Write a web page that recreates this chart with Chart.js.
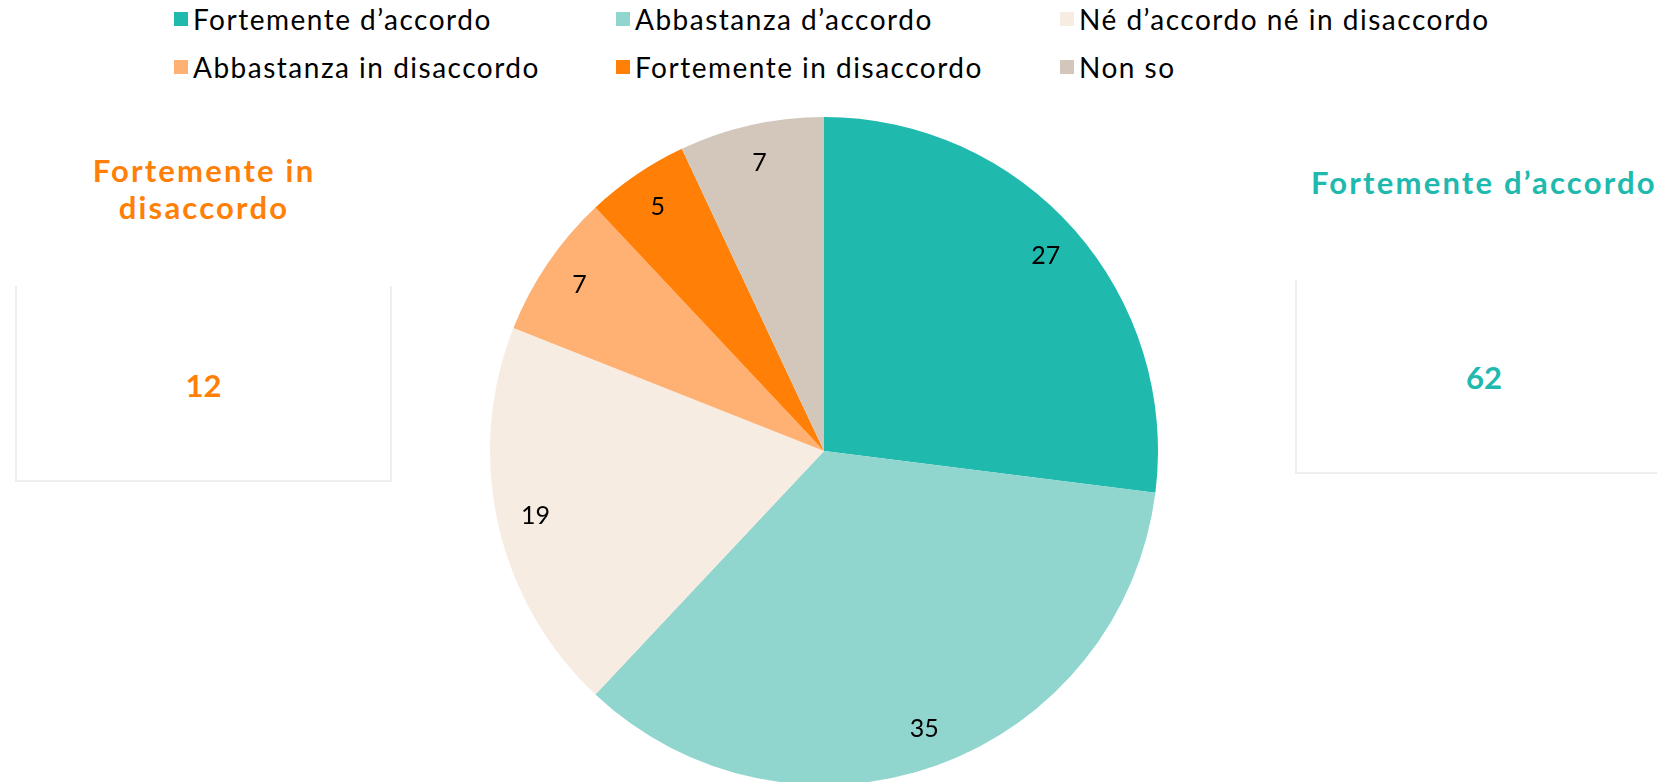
<!DOCTYPE html>
<html>
<head>
<meta charset="utf-8">
<script src="https://cdn.jsdelivr.net/npm/chart.js@4"></script>
<style>
  html, body { margin: 0; padding: 0; background: #fff; }
  body { width: 1657px; height: 782px; overflow: hidden; position: relative; font-family: Lato, "Noto Sans", sans-serif; }
  #legend { position: absolute; left: 174px; top: 0px; width: 1400px; display: grid; grid-template-columns: 442px 444px 500px; row-gap: 10px; }
  .item { display: flex; align-items: center; font-size: 28px; color: #000; height: 38px; white-space: nowrap; letter-spacing: 1.5px; }
  .sw { width: 14px; height: 14px; margin-right: 5px; }
  .box { position: absolute; border: 2px solid #eeeeee; border-top: none; box-sizing: border-box; }
  .ttl { position: absolute; font-weight: bold; font-size: 31px; text-align: center; line-height: 37px; white-space: nowrap; letter-spacing: 2.2px; }
  .num { position: absolute; font-weight: bold; font-size: 31px; text-align: center; }
  #pie { position: absolute; left: 490px; top: 117px; }
</style>
</head>
<body>
<div id="legend"></div>

<div class="ttl" id="leftTitle" style="left:14px;width:380px;top:152px;color:#FF7F07;"></div>
<div class="box" style="left:15px;top:286px;width:377px;height:196px;"></div>
<div class="num" id="leftNum" style="left:15px;width:377px;top:366px;color:#FF7F07;"></div>

<div class="ttl" id="rightTitle" style="left:1311px;top:164px;color:#20B9AE;"></div>
<div class="box" style="left:1295px;top:280px;width:400px;height:194px;"></div>
<div class="num" id="rightNum" style="left:1295px;width:378px;top:358px;color:#20B9AE;"></div>

<canvas id="pie" width="668" height="668"></canvas>

<script>
const labels = ['Fortemente d\u2019accordo', 'Abbastanza d\u2019accordo', 'N\u00e9 d\u2019accordo n\u00e9 in disaccordo',
    'Abbastanza in disaccordo', 'Fortemente in disaccordo', 'Non so'];
const values = [27, 35, 19, 7, 5, 7];
const colors = ['#20B9AE', '#90D6CE', '#F7ECE2', '#FFB073', '#FF7F07', '#D3C7BC'];

const agreeTotal = values[0] + values[1];
const disagreeTotal = values[3] + values[4];

// legend in three columns, like the original
const legendEl = document.getElementById('legend');
labels.forEach((label, i) => {
    const item = document.createElement('div');
    item.className = 'item';
    item.innerHTML = `<span class="sw" style="background:${colors[i]}"></span><span>${label}</span>`;
    legendEl.appendChild(item);
});

document.getElementById('leftTitle').innerHTML = 'Fortemente in<br>disaccordo';
document.getElementById('rightTitle').textContent = labels[0];
document.getElementById('leftNum').textContent = disagreeTotal;
document.getElementById('rightNum').textContent = agreeTotal;

// draws the value inside each slice
const sliceLabels = {
    id: 'sliceLabels',
    afterDatasetsDraw(chart) {
        const ctx = chart.ctx;
        const meta = chart.getDatasetMeta(0);
        ctx.save();
        ctx.fillStyle = '#000';
        ctx.font = '25px Lato, "Noto Sans", sans-serif';
        ctx.textAlign = 'center';
        ctx.textBaseline = 'middle';
        meta.data.forEach((arc, i) => {
            const p = arc.getProps(['x', 'y', 'startAngle', 'endAngle', 'outerRadius'], true);
            const mid = (p.startAngle + p.endAngle) / 2;
            const r = p.outerRadius * 0.885;
            ctx.fillText(values[i], p.x + Math.cos(mid) * r, p.y + Math.sin(mid) * r);
        });
        ctx.restore();
    }
};

new Chart(document.getElementById('pie').getContext('2d'), {
    type: 'pie',
    data: {
        labels: labels,
        datasets: [{
            data: values,
            backgroundColor: colors,
            borderWidth: 0
        }]
    },
    options: {
        responsive: false,
        animation: false,
        layout: { padding: 0 },
        plugins: {
            legend: { display: false },
            tooltip: { enabled: false }
        }
    },
    plugins: [sliceLabels]
});
</script>
</body>
</html>
